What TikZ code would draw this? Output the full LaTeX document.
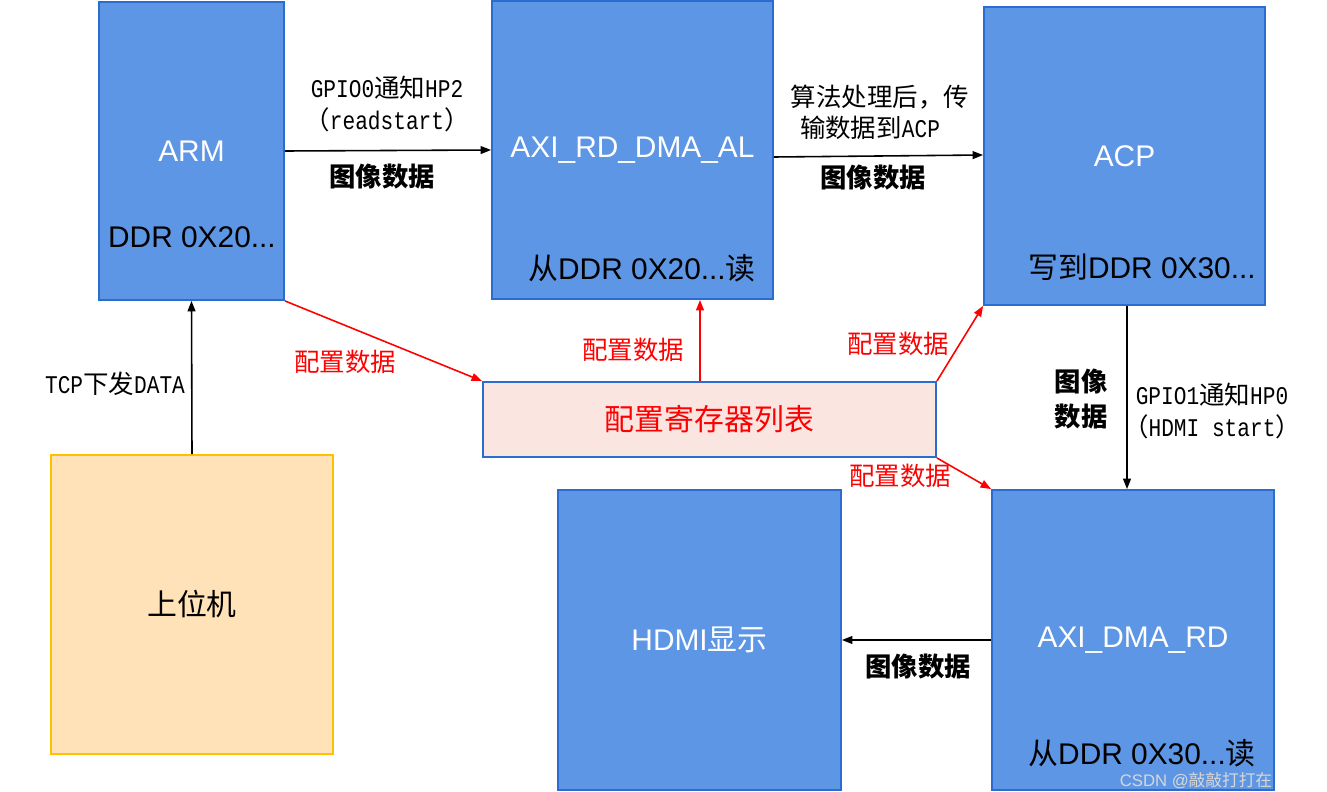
\documentclass[tikz,border=0pt]{standalone}
\usepackage{fontspec}
\setmainfont{Liberation Sans}
\newfontfamily\cjk{Noto Sans CJK SC}
\newfontfamily\mono[FakeStretch=0.83]{Liberation Mono}
\usetikzlibrary{arrows.meta}
\definecolor{boxblue}{RGB}{93,150,229}
\definecolor{bordblue}{RGB}{43,108,208}
\definecolor{regpink}{RGB}{251,229,225}
\definecolor{hostfill}{RGB}{255,226,183}
\definecolor{hostbord}{RGB}{255,192,0}
\definecolor{wmgray}{RGB}{215,215,215}
\begin{document}
\begin{tikzpicture}[x=0.02cm,y=-0.02cm,
  box/.style={draw=bordblue, line width=1.1pt, fill=boxblue, text=white,
    font=\fontsize{17}{20}\selectfont, inner sep=0pt, anchor=center},
  sub/.style={text=black, font=\fontsize{17}{20}\selectfont, inner sep=0pt},
  lbl/.style={font=\fontsize{14.5}{18}\selectfont, inner sep=0pt},
  bl/.style={font=\cjk\bfseries\fontsize{15}{20}\selectfont, inner sep=0pt, align=center},
  rl/.style={font=\cjk\fontsize{14.5}{18}\selectfont, inner sep=0pt, text=red},
  arr/.style={-{Triangle[length=6pt,width=4.5pt]}, line width=0.9pt},
  rarr/.style={arr, draw=red}]
\useasboundingbox (0,0) rectangle (1327,791);

% boxes
\node[box, minimum width=3.7cm, minimum height=5.96cm] (arm) at (191.5,151) {ARM};
\node[sub] (armsub) at (192,237) {DDR 0X20...};
\node[box, minimum width=5.62cm, minimum height=5.96cm] (axi) at (632.5,150) {AXI\_RD\_DMA\_AL};
\node[sub] (axisub) at (642,268) {{\cjk 从}DDR 0X20...{\cjk 读}};
\node[box, minimum width=5.62cm, minimum height=5.96cm] (acp) at (1124.5,156) {ACP};
\node[sub] (acpsub) at (1142,267) {{\cjk 写到}DDR 0X30...};
\node[box, fill=regpink, text=red, minimum width=9.06cm, minimum height=1.5cm, font=\cjk\fontsize{17}{20}\selectfont] (reg) at (709.5,419.5) {配置寄存器列表};
\node[box, draw=hostbord, fill=hostfill, text=black, minimum width=5.64cm, minimum height=5.98cm, font=\cjk\fontsize{17}{20}\selectfont] (host) at (192,604.5) {上位机};
\node[box, minimum width=5.66cm, minimum height=6.0cm] (hdmi) at (699.5,640) {HDMI{\cjk 显示}};
\node[box, minimum width=5.64cm, minimum height=6.0cm] (dmard) at (1133,640) {AXI\_DMA\_RD};
\node[sub] (dmasub) at (1142,753) {{\cjk 从}DDR 0X30...{\cjk 读}};
\node[inner sep=0pt, text=wmgray, font=\fontsize{9.5}{11}\selectfont] (wm) at (1196,781) {CSDN @{\cjk 敲敲打打在}};

% black arrows
\draw[arr] (arm.east) -- (axi.west);
\draw[arr] ([yshift=-0.14cm]axi.east) -- ([yshift=-0.1cm]axi.east -| acp.west);
\draw[arr] (host.north) -- (arm.south);
\draw[arr] ([xshift=0.05cm]acp.south) -- ([xshift=0.05cm]acp.south |- dmard.north);
\draw[arr] (dmard.west) -- (hdmi.east);

% red arrows
\draw[rarr] (arm.south east) -- (reg.north west);
\draw[rarr] ([xshift=-0.19cm]reg.north) -- ([xshift=-0.19cm]reg.north |- axi.south);
\draw[rarr] (reg.north east) -- (acp.south west);
\draw[rarr] (reg.south east) -- (dmard.north west);

% labels
\node[lbl] (l1a) at (387,88) {{\mono GPIO0}{\cjk 通知}{\mono HP2}};
\node[lbl] (l1b) at (387,120) {{\cjk （}{\mono readstart}{\cjk ）}};
\node[bl] (l1c) at (382,177) {图像数据};
\node[lbl] (l2a) at (880,97) {{\cjk 算法处理后，传}};
\node[lbl] (l2b) at (870,128) {{\cjk 输数据到}{\mono ACP}};
\node[bl] (l2c) at (873,178) {图像数据};
\node[lbl] (l3) at (115,384) {{\mono TCP}{\cjk 下发}{\mono DATA}};
\node[bl] (l4a) at (1081,399) {图像\\数据};
\node[lbl] (l4b) at (1212,395) {{\mono GPIO1}{\cjk 通知}{\mono HP0}};
\node[lbl] (l4c) at (1212,427) {{\cjk （}{\mono HDMI start}{\cjk ）}};
\node[bl] (l5) at (918,667) {图像数据};
\node[rl] (r1) at (345,362) {配置数据};
\node[rl] (r2) at (633,350) {配置数据};
\node[rl] (r3) at (898,344) {配置数据};
\node[rl] (r4) at (900,476) {配置数据};
\end{tikzpicture}
\end{document}
